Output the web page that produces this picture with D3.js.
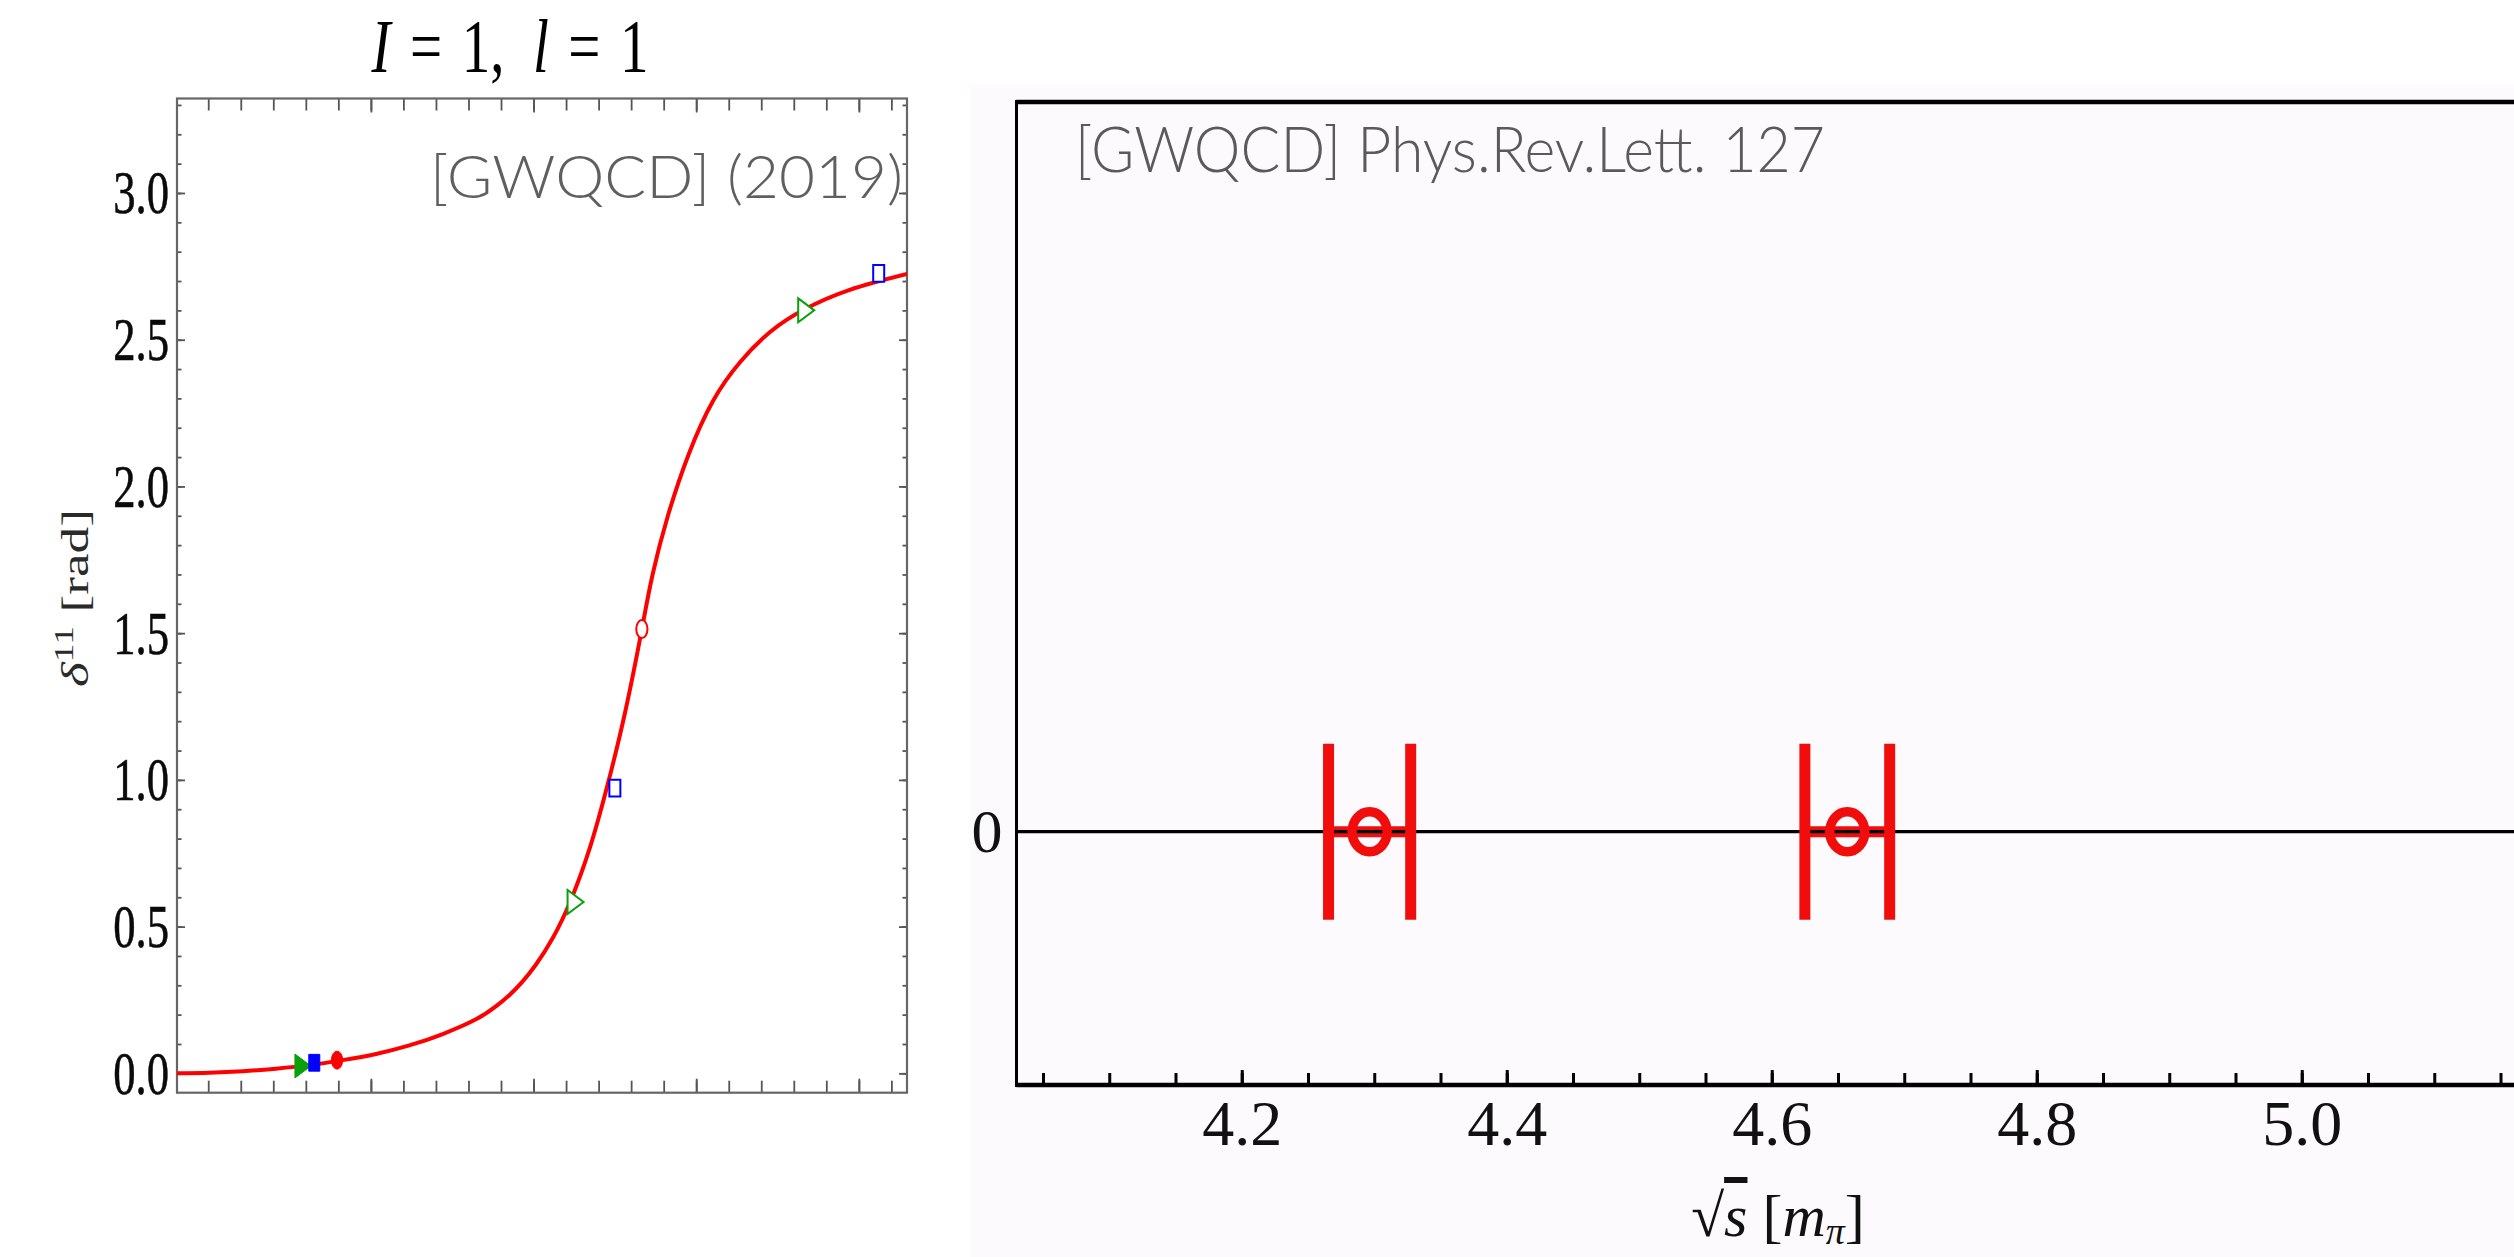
<!DOCTYPE html>
<html>
<head>
<meta charset="utf-8">
<script src="https://cdn.jsdelivr.net/npm/d3@7"></script>
<style>
  html, body { margin: 0; padding: 0; background: #fff; overflow: hidden; }
  svg { display: block; }
</style>
</head>
<body>
<svg id="chart" width="2514" height="1257"></svg>
<script>
// ---------- Left panel: I=1, l=1 p-wave phase shift ----------
// Fitted phase-shift curve, sampled along the energy axis
const fitE     = [1.904, 2.003, 2.106, 2.208, 2.311, 2.413, 2.516, 2.618, 2.721, 2.823, 2.884, 2.927, 2.964, 3.007, 3.059, 3.115, 3.173, 3.225, 3.281, 3.333, 3.366, 3.413, 3.477, 3.552, 3.636, 3.729, 3.832, 3.972, 4.148];
const fitDelta = [0.000, 0.002, 0.007, 0.016, 0.028, 0.045, 0.066, 0.095, 0.134, 0.184, 0.228, 0.268, 0.310, 0.370, 0.461, 0.591, 0.768, 0.972, 1.228, 1.514, 1.700, 1.900, 2.110, 2.292, 2.425, 2.528, 2.603, 2.670, 2.724];

// Lattice points per ensemble (first entry = ground level, filled marker)
const greenE = [2.285, 3.123, 3.832];
const greenDelta = [0.025, 0.584, 2.600];
const greenOpen = [false, true, true];
const blueE = [2.326, 3.250, 4.061];
const blueDelta = [0.036, 0.972, 2.726];
const blueOpen = [false, true, true];
const redE = [2.396, 3.333];
const redDelta = [0.045, 1.514];
const redOpen = [false, true];

const deltaTicks = [0, 0.5, 1, 1.5, 2, 2.5, 3];
const deltaTickLabels = ["0.0", "0.5", "1.0", "1.5", "2.0", "2.5", "3.0"];
const energyMajorTicks = [2.5, 3.0, 3.5, 4.0];

// ---------- Right panel: energy levels ----------
const levelE = [4.2965, 4.657];
const levelErr = [0.031, 0.032];
const levelY = [0, 0];
const sqrtsTicks = [4.2, 4.4, 4.6, 4.8, 5.0];
const sqrtsTickLabels = ["4.2", "4.4", "4.6", "4.8", "5.0"];

const svg = d3.select("#chart");
svg.append("rect").attr("width", 2514).attr("height", 1257).attr("fill", "#ffffff");

// ===== Left panel =====
const L = { left: 177, right: 907, top: 98.5, bottom: 1092.7 };
const xL = d3.scaleLinear().domain([1.904, 4.148]).range([L.left, L.right]);
const yL = d3.scaleLinear().domain([-0.066, 3.322]).range([L.bottom, L.top]);

const gL = svg.append("g");

gL.append("defs").append("clipPath").attr("id", "clipL")
  .append("rect").attr("x", L.left).attr("y", L.top)
  .attr("width", L.right - L.left).attr("height", L.bottom - L.top);

function styleTicks(sel, color, width) {
  sel.select(".domain").remove();
  sel.selectAll(".tick line").attr("stroke", color).attr("stroke-width", width);
}

const minorDelta = d3.range(0, 3.31, 0.1);
const minorE = d3.range(2.0, 4.15, 0.1);

// left / right y ticks (inward)
gL.append("g").attr("transform", `translate(${L.left},0)`)
  .call(d3.axisLeft(yL).tickValues(minorDelta).tickSize(-4.5).tickFormat(""))
  .call(s => styleTicks(s, "#555", 1.8));
gL.append("g").attr("transform", `translate(${L.right},0)`)
  .call(d3.axisRight(yL).tickValues(minorDelta).tickSize(-4.5).tickFormat(""))
  .call(s => styleTicks(s, "#555", 1.8));
gL.append("g").attr("transform", `translate(${L.right},0)`)
  .call(d3.axisRight(yL).tickValues(deltaTicks).tickSize(-8).tickFormat(""))
  .call(s => styleTicks(s, "#555", 1.8));
const yAxisL = gL.append("g").attr("transform", `translate(${L.left},0)`)
  .call(d3.axisLeft(yL).tickValues(deltaTicks).tickSize(-8).tickPadding(11)
        .tickFormat((d, i) => deltaTickLabels[i]))
  .call(s => styleTicks(s, "#555", 1.8));
yAxisL.selectAll(".tick text")
  .attr("font-family", "'Liberation Serif', 'Times New Roman', serif")
  .attr("font-size", 62).attr("fill", "#0a0a0a")
  .attr("stroke", "#0a0a0a").attr("stroke-width", 0.6)
  .attr("transform", "scale(0.72,1)");

// top / bottom x ticks (inward, no labels)
[[L.top, d3.axisTop], [L.bottom, d3.axisBottom]].forEach(([yy, ax]) => {
  gL.append("g").attr("transform", `translate(0,${yy})`)
    .call(ax(xL).tickValues(minorE).tickSize(-12).tickFormat(""))
    .call(s => styleTicks(s, "#555", 1.8));
  gL.append("g").attr("transform", `translate(0,${yy})`)
    .call(ax(xL).tickValues(energyMajorTicks).tickSize(-14).tickFormat(""))
    .call(s => styleTicks(s, "#555", 1.8));
});

// frame
gL.append("rect").attr("x", L.left).attr("y", L.top)
  .attr("width", L.right - L.left).attr("height", L.bottom - L.top)
  .attr("fill", "none").attr("stroke", "#666").attr("stroke-width", 2.2);

// fit curve
const fitIdx = fitE.map((e, i) => i);
const fitLine = d3.line().x(i => xL(fitE[i])).y(i => yL(fitDelta[i]))
  .curve(d3.curveNatural);
gL.append("path").datum(fitIdx).attr("d", fitLine)
  .attr("clip-path", "url(#clipL)")
  .attr("fill", "none").attr("stroke", "#ff0000").attr("stroke-width", 4)
  .attr("stroke-linecap", "round").attr("stroke-linejoin", "round");

// markers (drawn tall, as in the original figure aspect)
const green = "#0aa00a", blue = "#0000ff", red = "#ff0000";
function drawMarkers(Es, Ds, opens, color, kind) {
  Es.forEach((e, i) => {
    const g = gL.append("g").attr("transform", `translate(${xL(e)},${yL(Ds[i])}) scale(1,1.5)`);
    const open = opens[i];
    let m;
    if (kind === "tri") {
      m = g.append("path").attr("d", "M-6,-8L-6,8L10,0Z");
    } else if (kind === "sq") {
      m = g.append("rect").attr("x", -5.5).attr("y", -5.6).attr("width", 11).attr("height", 11.2);
    } else {
      m = g.append("ellipse").attr("rx", 5.6).attr("ry", 6.0);
    }
    m.attr("fill", open ? "#ffffff" : color)
     .attr("stroke", color).attr("stroke-width", open ? 2.0 : 1)
     .attr("vector-effect", "non-scaling-stroke");
  });
}
drawMarkers(greenE, greenDelta, greenOpen, green, "tri");
drawMarkers(blueE, blueDelta, blueOpen, blue, "sq");
drawMarkers(redE, redDelta, redOpen, red, "circ");

// title  I = 1, l = 1
const title = svg.append("g").attr("transform", "translate(510,72) scale(0.75,1)")
  .append("text").attr("text-anchor", "middle")
  .attr("font-family", "'Liberation Serif', 'Times New Roman', serif")
  .attr("font-size", 76).attr("fill", "#000");
title.append("tspan").attr("font-style", "italic").text("I");
title.append("tspan").attr("dx", 26).text("=");
title.append("tspan").attr("dx", 26).text("1,");
title.append("tspan").attr("dx", 38).attr("font-style", "italic").text("l");
title.append("tspan").attr("dx", 26).text("=");
title.append("tspan").attr("dx", 26).text("1");

// y label
const ylab = svg.append("g").attr("transform", "translate(88,598) rotate(-90) scale(1.4,1)")
  .append("text").attr("text-anchor", "middle")
  .attr("font-family", "'Liberation Serif', 'Times New Roman', serif")
  .attr("font-size", 38).attr("fill", "#2a2a2a");
ylab.append("tspan").attr("font-style", "italic").text("δ");
ylab.append("tspan").attr("font-size", 27).attr("dy", -15).text("11");
ylab.append("tspan").attr("dy", 15).text(" [rad]");

// reference tag
svg.append("text").attr("x", 430).attr("y", 198)
  .attr("font-family", "Lato, 'Open Sans', sans-serif").attr("font-weight", 300)
  .attr("font-size", 60).attr("fill", "#5f5f5f")
  .attr("textLength", 473).attr("lengthAdjust", "spacingAndGlyphs")
  .text("[GWQCD] (2019)");

// ===== Right panel =====
const R = { left: 1016.5, top: 102, bottom: 1085 };
svg.append("rect").attr("x", 970).attr("y", 85).attr("width", 1544).attr("height", 1172)
  .attr("fill", "#fcfafd");

const xR = d3.scaleLinear().domain([4.03, 5.3]).range([R.left, R.left + 1.27 * 1325]);
const yR = d3.scaleLinear().domain([-0.2574, 0.7426]).range([R.bottom, R.top - 1]);

const gR = svg.append("g");

// x ticks (inward) and labels
gR.append("g").attr("transform", `translate(0,${R.bottom})`)
  .call(d3.axisBottom(xR).tickValues(d3.range(4.05, 5.26, 0.05)).tickSize(-12).tickFormat(""))
  .call(s => styleTicks(s, "#000", 3));
const xAxR = gR.append("g").attr("transform", `translate(0,${R.bottom})`)
  .call(d3.axisBottom(xR).tickValues(sqrtsTicks).tickSize(-15).tickPadding(15)
        .tickFormat((d, i) => sqrtsTickLabels[i]))
  .call(s => styleTicks(s, "#000", 3));
xAxR.selectAll(".tick text")
  .attr("font-family", "'Liberation Serif', 'Times New Roman', serif")
  .attr("font-size", 64).attr("fill", "#111");

// y label "0"
const yAxR = gR.append("g").attr("transform", `translate(${R.left},0)`)
  .call(d3.axisLeft(yR).tickValues([0]).tickSize(0).tickPadding(14).tickFormat(d3.format("d")))
  .call(s => s.select(".domain").remove());
yAxR.selectAll(".tick text")
  .attr("font-family", "'Liberation Serif', 'Times New Roman', serif")
  .attr("font-size", 62).attr("fill", "#111");

// frame lines
gR.append("line").attr("x1", R.left).attr("x2", 2520).attr("y1", R.bottom).attr("y2", R.bottom)
  .attr("stroke", "#000").attr("stroke-width", 4.5);
gR.append("line").attr("x1", R.left).attr("x2", 2520).attr("y1", R.top).attr("y2", R.top)
  .attr("stroke", "#000").attr("stroke-width", 4.5);
gR.append("line").attr("x1", R.left).attr("x2", R.left).attr("y1", R.top - 2).attr("y2", R.bottom + 2)
  .attr("stroke", "#000").attr("stroke-width", 3);

// error bars: horizontal segment, zero line on top, then caps and ring
const lvlRed = "#f20d0d";
levelE.forEach((e, i) => {
  gR.append("line").attr("x1", xR(e - levelErr[i])).attr("x2", xR(e + levelErr[i]))
    .attr("y1", yR(levelY[i])).attr("y2", yR(levelY[i]))
    .attr("stroke", lvlRed).attr("stroke-width", 11);
});
gR.append("line").attr("x1", R.left).attr("x2", 2520).attr("y1", yR(0)).attr("y2", yR(0))
  .attr("stroke", "#000").attr("stroke-width", 3.2);
levelE.forEach((e, i) => {
  [e - levelErr[i], e + levelErr[i]].forEach(v => {
    gR.append("line").attr("x1", xR(v)).attr("x2", xR(v))
      .attr("y1", yR(levelY[i]) - 88).attr("y2", yR(levelY[i]) + 88)
      .attr("stroke", lvlRed).attr("stroke-width", 11);
  });
  gR.append("ellipse").attr("cx", xR(e)).attr("cy", yR(levelY[i]))
    .attr("rx", 17.5).attr("ry", 20)
    .attr("fill", "none").attr("stroke", lvlRed).attr("stroke-width", 9.5);
});

// x axis title
const xt = svg.append("text").attr("x", 1778).attr("y", 1236).attr("text-anchor", "middle")
  .attr("font-family", "'Liberation Serif', 'Times New Roman', serif")
  .attr("font-size", 60).attr("fill", "#111");
xt.append("tspan").text("√");
xt.append("tspan").attr("style", "text-decoration: overline").attr("font-style", "italic").text("s");
xt.append("tspan").text(" [");
xt.append("tspan").attr("font-style", "italic").text("m");
xt.append("tspan").attr("font-style", "italic").attr("font-size", 38).attr("dy", 8).text("π");
xt.append("tspan").attr("dy", -8).text("]");

// reference tag
svg.append("text").attr("x", 1075).attr("y", 172)
  .attr("font-family", "Lato, 'Open Sans', sans-serif").attr("font-weight", 300)
  .attr("font-size", 64).attr("fill", "#5a5a5a")
  .attr("textLength", 750).attr("lengthAdjust", "spacingAndGlyphs")
  .text("[GWQCD] Phys.Rev.Lett. 127");
</script>
</body>
</html>
